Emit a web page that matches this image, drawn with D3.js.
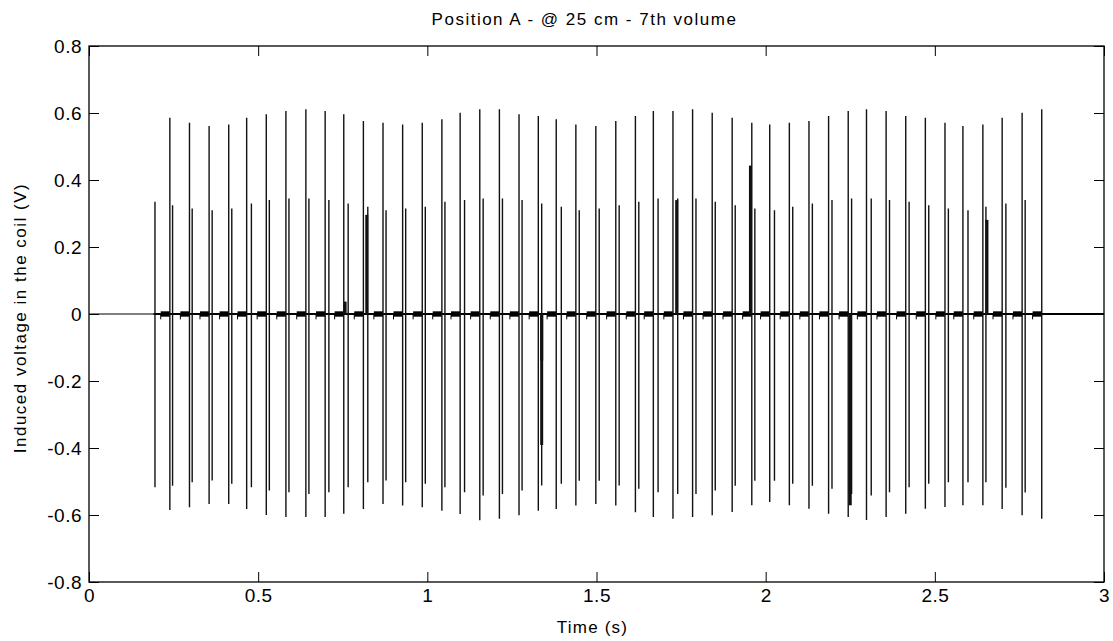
<!DOCTYPE html>
<meta charset="utf-8">
<head><title>Position A - @ 25 cm - 7th volume</title>
<style>
body { margin: 0; background: #fff; }
svg text { font-family: "Liberation Sans", Arial, sans-serif; fill: #000; }
.tick line { stroke: #000; }
</style>
</head>
<body>
<svg width="1113" height="641"></svg>
<script src="https://cdn.jsdelivr.net/npm/d3@7/dist/d3.min.js"></script>
<script>

// times (s) of the big pulse in each cycle
var tallT = [0.239, 0.297, 0.355, 0.413, 0.466, 0.524, 0.582, 0.641, 0.698, 0.753,
  0.811, 0.869, 0.927, 0.985, 1.043, 1.097, 1.155, 1.213, 1.271, 1.328,
  1.381, 1.439, 1.498, 1.557, 1.615, 1.668, 1.726, 1.784, 1.842, 1.901,
  1.959, 2.012, 2.070, 2.128, 2.186, 2.244, 2.298, 2.356, 2.414, 2.472,
  2.530, 2.583, 2.642, 2.699, 2.758, 2.816];
var tallHi = [0.586, 0.571, 0.561, 0.566, 0.586, 0.596, 0.606, 0.611, 0.606, 0.596,
  0.576, 0.571, 0.566, 0.571, 0.581, 0.601, 0.611, 0.611, 0.596, 0.591,
  0.581, 0.566, 0.561, 0.576, 0.591, 0.606, 0.606, 0.611, 0.601, 0.586,
  0.571, 0.566, 0.571, 0.576, 0.591, 0.606, 0.611, 0.606, 0.591, 0.586,
  0.571, 0.561, 0.566, 0.586, 0.601, 0.611];
var tallLo = [-0.585, -0.577, -0.567, -0.567, -0.582, -0.600, -0.606, -0.606, -0.606, -0.596,
  -0.582, -0.567, -0.572, -0.577, -0.587, -0.597, -0.616, -0.611, -0.601, -0.587,
  -0.582, -0.572, -0.567, -0.572, -0.592, -0.606, -0.611, -0.606, -0.601, -0.591,
  -0.571, -0.561, -0.571, -0.581, -0.596, -0.606, -0.615, -0.606, -0.596, -0.581,
  -0.576, -0.571, -0.571, -0.582, -0.601, -0.611];

// times (s) of the smaller pulse that follows
var shortT = [0.195, 0.247, 0.305, 0.364, 0.422, 0.480, 0.533, 0.591, 0.650, 0.709,
  0.766, 0.824, 0.878, 0.936, 0.994, 1.052, 1.110, 1.165, 1.222, 1.280,
  1.338, 1.396, 1.449, 1.508, 1.567, 1.625, 1.682, 1.740, 1.794, 1.851,
  1.910, 1.968, 2.026, 2.080, 2.138, 2.196, 2.254, 2.312, 2.366, 2.424,
  2.482, 2.540, 2.598, 2.651, 2.710, 2.767];
var shortHi = [0.335, 0.325, 0.315, 0.310, 0.315, 0.330, 0.340, 0.345, 0.345, 0.340,
  0.330, 0.320, 0.310, 0.315, 0.320, 0.335, 0.340, 0.345, 0.345, 0.340,
  0.330, 0.320, 0.310, 0.315, 0.325, 0.335, 0.345, 0.345, 0.345, 0.335,
  0.325, 0.315, 0.310, 0.320, 0.330, 0.340, 0.345, 0.345, 0.340, 0.335,
  0.325, 0.315, 0.310, 0.320, 0.330, 0.340];
var shortLo = [-0.517, -0.513, -0.502, -0.497, -0.507, -0.517, -0.527, -0.532, -0.537, -0.532,
  -0.517, -0.502, -0.497, -0.502, -0.507, -0.517, -0.532, -0.542, -0.537, -0.527,
  -0.512, -0.507, -0.498, -0.498, -0.512, -0.522, -0.532, -0.537, -0.537, -0.527,
  -0.513, -0.498, -0.498, -0.507, -0.513, -0.522, -0.537, -0.542, -0.532, -0.517,
  -0.507, -0.502, -0.502, -0.502, -0.519, -0.533];

// odd dense bursts (time, low, high)
var burstT = [0.757, 0.821, 1.338, 1.338, 1.737, 1.955, 2.250, 2.250, 2.654];
var burstLo = [0, 0, -0.391, -0.139, 0, 0, -0.571, -0.535, 0];
var burstHi = [0.037, 0.296, 0, 0, 0.340, 0.443, 0, 0, 0.281];

// small ripple just ahead of each big pulse
var rippleLead = 0.027;
var rippleAmp = 0.008;
var signalStart = 0.19;

var xTicks = [0, 0.5, 1, 1.5, 2, 2.5, 3];
var yTicks = [-0.8, -0.6, -0.4, -0.2, 0, 0.2, 0.4, 0.6, 0.8];

var svg = d3.select("svg");
var margin = {left: 89, right: 9, top: 46, bottom: 59};
var width = +svg.attr("width"), height = +svg.attr("height");

var x = d3.scaleLinear().domain([0, 3]).range([margin.left, width - margin.right]);
var y = d3.scaleLinear().domain([-0.8, 0.8]).range([height - margin.bottom, margin.top]);

var fmt = function(d) { return String(d); };

//plot area
var plot = svg.append("g");

// baseline: faint before the signal, heavy after
plot.append("line")
  .attr("x1", x(0)).attr("x2", x(signalStart))
  .attr("y1", y(0)).attr("y2", y(0))
  .attr("stroke", "#000").attr("stroke-width", 1);
plot.append("line")
  .attr("x1", x(signalStart)).attr("x2", x(3))
  .attr("y1", y(0)).attr("y2", y(0))
  .attr("stroke", "#000").attr("stroke-width", 2);

// ripple blobs
plot.append("g").selectAll("rect")
  .data(tallT)
  .enter().append("rect")
  .attr("x", function(d) { return x(d - rippleLead); })
  .attr("width", function(d) { return x(d) - x(d - rippleLead); })
  .attr("y", y(rippleAmp))
  .attr("height", y(-rippleAmp) - y(rippleAmp))
  .attr("fill", "#000");

plot.append("g").selectAll("line")
  .data(tallT)
  .enter().append("line")
  .attr("x1", function(d) { return x(d - rippleLead); })
  .attr("x2", function(d) { return x(d - rippleLead); })
  .attr("y1", y(0)).attr("y2", y(-2 * rippleAmp))
  .attr("stroke", "#000").attr("stroke-width", 1);

// pulses
var tall = tallT.map(function(t, i) { return {t: t, lo: tallLo[i], hi: tallHi[i]}; });
var small = shortT.map(function(t, i) { return {t: t, lo: shortLo[i], hi: shortHi[i]}; });
var bursts = burstT.map(function(t, i) { return {t: t, lo: burstLo[i], hi: burstHi[i]}; });

function spikes(data, w) {
  plot.append("g").selectAll("line")
    .data(data)
    .enter().append("line")
    .attr("x1", function(d) { return x(d.t); })
    .attr("x2", function(d) { return x(d.t); })
    .attr("y1", function(d) { return y(d.hi); })
    .attr("y2", function(d) { return y(d.lo); })
    .attr("stroke", "#111")
    .attr("stroke-width", w);
}
spikes(tall, 1.4);
spikes(small, 1.4);
spikes(bursts, 3);

//axes with inward ticks on every side
svg.append("g")
  .attr("transform", "translate(0," + y(-0.8) + ")")
  .call(d3.axisBottom(x).tickValues(xTicks).tickFormat(fmt).tickSizeInner(-10).tickSizeOuter(0).tickPadding(7));
svg.append("g")
  .attr("transform", "translate(0," + y(0.8) + ")")
  .call(d3.axisTop(x).tickValues(xTicks).tickFormat("").tickSizeInner(-10).tickSizeOuter(0));
svg.append("g")
  .attr("transform", "translate(" + x(0) + ",0)")
  .call(d3.axisLeft(y).tickValues(yTicks).tickFormat(fmt).tickSizeInner(-10).tickSizeOuter(0).tickPadding(7));
svg.append("g")
  .attr("transform", "translate(" + x(3) + ",0)")
  .call(d3.axisRight(y).tickValues(yTicks).tickFormat("").tickSizeInner(-10).tickSizeOuter(0));

svg.selectAll(".domain").remove();
svg.selectAll(".tick text").style("font-size", "19px").style("letter-spacing", "0.5px").attr("fill", "#000");

//frame
svg.append("rect")
  .attr("x", x(0)).attr("y", y(0.8))
  .attr("width", x(3) - x(0)).attr("height", y(-0.8) - y(0.8))
  .attr("fill", "none").attr("stroke", "#000").attr("stroke-width", 1.3);

//labels
svg.append("text")
  .attr("x", (x(0) + x(3)) / 2 - 12).attr("y", 25)
  .attr("text-anchor", "middle").style("font-size", "17px").style("letter-spacing", "1.5px")
  .text("Position A - @ 25 cm - 7th volume");
svg.append("text")
  .attr("x", (x(0) + x(3)) / 2 - 4).attr("y", 633)
  .attr("text-anchor", "middle").style("font-size", "17px").style("letter-spacing", "1.2px")
  .text("Time (s)");
svg.append("text")
  .attr("transform", "translate(26," + (y(0) + 4) + ") rotate(-90)")
  .attr("text-anchor", "middle").style("font-size", "17px").style("letter-spacing", "1.5px")
  .text("Induced voltage in the coil (V)");

</script>
</body>
